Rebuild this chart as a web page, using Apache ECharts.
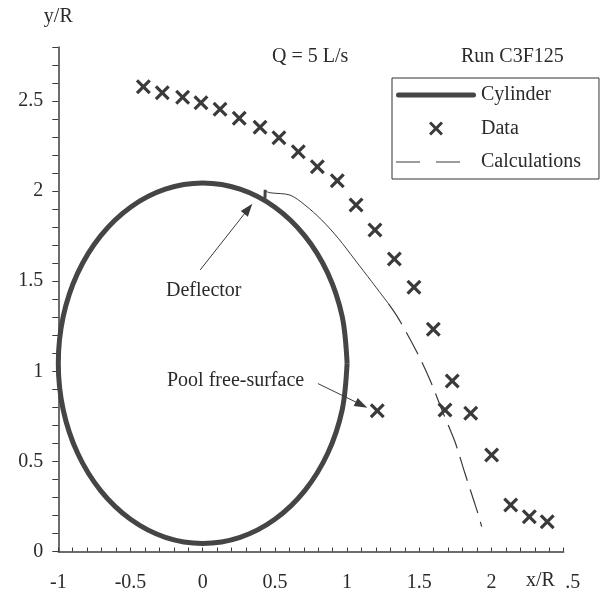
<!DOCTYPE html>
<html>
<head>
<meta charset="utf-8">
<script src="https://cdn.jsdelivr.net/npm/echarts@6/dist/echarts.min.js"></script>
<style>html,body{margin:0;padding:0;background:#fff;}#c{width:602px;height:594px;}</style>
</head>
<body>
<div id="c"></div>
<script>
// ---- data ----
const cylinderX = [1.000, 0.966, 0.866, 0.707, 0.500, 0.259, 0.000, -0.259, -0.500, -0.707, -0.866, -0.966, -1.000, -0.966, -0.866, -0.707, -0.500, -0.259, 0.000, 0.259, 0.500, 0.707, 0.866, 0.966, 1.000];
const cylinderY = [1.045, 1.304, 1.545, 1.752, 1.911, 2.011, 2.045, 2.011, 1.911, 1.752, 1.545, 1.304, 1.045, 0.786, 0.545, 0.338, 0.179, 0.079, 0.045, 0.079, 0.179, 0.338, 0.545, 0.786, 1.045];

const dataX = [-0.411, -0.280, -0.139, -0.012, 0.120, 0.253, 0.397, 0.528, 0.662, 0.794, 0.932, 1.062, 1.193, 1.327, 1.463, 1.597, 1.728, 1.209, 1.678, 1.856, 2.001, 2.133, 2.262, 2.386];
const dataY = [2.579, 2.546, 2.521, 2.491, 2.454, 2.404, 2.354, 2.296, 2.218, 2.135, 2.058, 1.923, 1.784, 1.623, 1.466, 1.234, 0.946, 0.781, 0.785, 0.767, 0.535, 0.258, 0.193, 0.165];

const calcSolidX = [0.438, 0.466, 0.605, 0.708, 0.824, 0.939, 1.055, 1.170, 1.285];
const calcSolidY = [1.999, 1.991, 1.978, 1.923, 1.840, 1.738, 1.618, 1.498, 1.377];
const calcDashX = [1.285, 1.355, 1.482, 1.574, 1.666, 1.747, 1.816, 1.902, 1.932];
const calcDashY = [1.377, 1.294, 1.109, 0.952, 0.767, 0.609, 0.434, 0.221, 0.138];

const deflectorX = [0.431, 0.433];
const deflectorY = [1.960, 2.008];

const arrowDeflector = [[-0.017, 1.563], [0.316, 1.902]];
const arrowPool = [[0.798, 0.932], [1.100, 0.814]];

const xLabelValues = [-1, -0.5, 0, 0.5, 1, 1.5, 2, 2.5];
const xLabelTexts = ['-1', '-0.5', '0', '0.5', '1', '1.5', '2', '{s|.5}'];
const yLabelValues = [0, 0.5, 1, 1.5, 2, 2.5];
const yLabelTexts = ['0', '0.5', '1', '1.5', '2', '2.5'];

const seriesNames = ['Cylinder', 'Data', 'Calculations'];
const titleLeft = 'Q = 5 L/s';
const titleRight = 'Run C3F125';
const noteDeflector = 'Deflector';
const notePool = 'Pool free-surface';
const xName = 'x/R';
const yName = 'y/R';

// ---- build ----
const zip = (a, b) => a.map((v, i) => [v, b[i]]);
const pick = (vals, texts) => (v) => {
  for (let i = 0; i < vals.length; i++) if (Math.abs(v - vals[i]) < 1e-6) return texts[i];
  return '';
};
const FONT = 'Liberation Serif';
const TXT = '#2a2a2a';
const INK = '#3c3c3c';
const xPath = 'path://M0,1.5L1.5,0L5,3.5L8.5,0L10,1.5L6.5,5L10,8.5L8.5,10L5,6.5L1.5,10L0,8.5L3.5,5Z';
const thickIcon = 'path://M2.5,0L77.5,0A2.5,2.5,0,0,1,77.5,5L2.5,5A2.5,2.5,0,0,1,2.5,0Z';
const dashIcon = 'path://M0,0L24,0L24,1.2L0,1.2ZM40,0L64,0L64,1.2L40,1.2ZM80,0L80,1.2L80,0Z';

const chart = echarts.init(document.getElementById('c'), null, {renderer: 'canvas'});
chart.setOption({
  animation: false,
  backgroundColor: '#fff',
  grid: {left: 58.3, right: 38.3, top: 47, bottom: 42.5, containLabel: false},
  xAxis: {
    type: 'value', min: -1, max: 2.5, interval: 0.1,
    splitLine: {show: false},
    axisLine: {onZero: false, lineStyle: {color: INK, width: 1.5}},
    axisTick: {inside: true, length: 4, lineStyle: {color: INK, width: 1}},
    axisLabel: {
      interval: 0, margin: 21, color: TXT, fontFamily: FONT, fontSize: 20,
      formatter: pick(xLabelValues, xLabelTexts),
      rich: {s: {padding: [0, 0, 0, 18], fontFamily: FONT, fontSize: 20, color: TXT}}
    }
  },
  yAxis: {
    type: 'value', min: 0, max: 2.8, interval: 0.1,
    name: yName, nameLocation: 'end', nameGap: 20,
    nameTextStyle: {color: TXT, fontFamily: FONT, fontSize: 20},
    splitLine: {show: false},
    axisLine: {onZero: false, lineStyle: {color: INK, width: 1.5}},
    axisTick: {inside: false, length: 6, lineStyle: {color: INK, width: 1}},
    axisLabel: {
      interval: 0, margin: 15, color: TXT, fontFamily: FONT, fontSize: 20,
      formatter: pick(yLabelValues, yLabelTexts)
    }
  },
  legend: {
    orient: 'vertical', left: 392, top: 78,
    selectedMode: false,
    itemWidth: 80, itemHeight: 14, itemGap: 13.5,
    padding: [7, 18, 7, 4],
    borderColor: '#333', borderWidth: 1,
    textStyle: {color: TXT, fontFamily: FONT, fontSize: 20, lineHeight: 20},
    data: [
      {name: seriesNames[0], icon: thickIcon, itemStyle: {color: '#454545'}},
      {name: seriesNames[1]},
      {name: seriesNames[2], icon: dashIcon, itemStyle: {color: '#3a3a3a'}}
    ]
  },
  graphic: [
    {type: 'text', left: 272, top: 47, style: {text: titleLeft, fill: TXT, font: '20px "Liberation Serif"'}},
    {type: 'text', left: 461, top: 47, style: {text: titleRight, fill: TXT, font: '20px "Liberation Serif"'}},
    {type: 'text', left: 166, top: 281, style: {text: noteDeflector, fill: TXT, font: '20px "Liberation Serif"'}},
    {type: 'text', left: 167, top: 371, style: {text: notePool, fill: TXT, font: '20px "Liberation Serif"'}},
    {type: 'text', left: 526, top: 571, style: {text: xName, fill: TXT, font: '20px "Liberation Serif"'}}
  ],
  series: [
    {
      name: seriesNames[0], type: 'line', data: zip(cylinderX, cylinderY),
      smooth: 0.33, symbol: 'none', z: 2,
      lineStyle: {color: '#454545', width: 5},
      itemStyle: {color: '#454545'},
      markLine: {
        silent: true, symbol: ['none', 'triangle'], symbolSize: [9, 13],
        label: {show: false},
        lineStyle: {color: '#3a3a3a', width: 1, type: 'solid'},
        data: [
          [{coord: arrowDeflector[0]}, {coord: arrowDeflector[1]}],
          [{coord: arrowPool[0]}, {coord: arrowPool[1]}]
        ]
      }
    },
    {
      name: 'deflector', type: 'line', data: zip(deflectorX, deflectorY),
      symbol: 'none', z: 3, lineStyle: {color: '#454545', width: 3}
    },
    {
      name: 'calcSolid', type: 'line', data: zip(calcSolidX, calcSolidY),
      smooth: 0.3, symbol: 'none', z: 3,
      lineStyle: {color: '#3a3a3a', width: 1}
    },
    {
      name: seriesNames[2], type: 'line', data: zip(calcDashX, calcDashY),
      smooth: 0.3, symbol: 'none', z: 3,
      lineStyle: {color: '#3a3a3a', width: 1.2, type: [25, 9]},
      itemStyle: {color: '#3a3a3a'}
    },
    {
      name: seriesNames[1], type: 'scatter', data: zip(dataX, dataY),
      symbol: xPath, symbolSize: 15, symbolKeepAspect: true, z: 4,
      itemStyle: {color: '#3a3a3a', opacity: 1}
    }
  ]
});
</script>
</body>
</html>
